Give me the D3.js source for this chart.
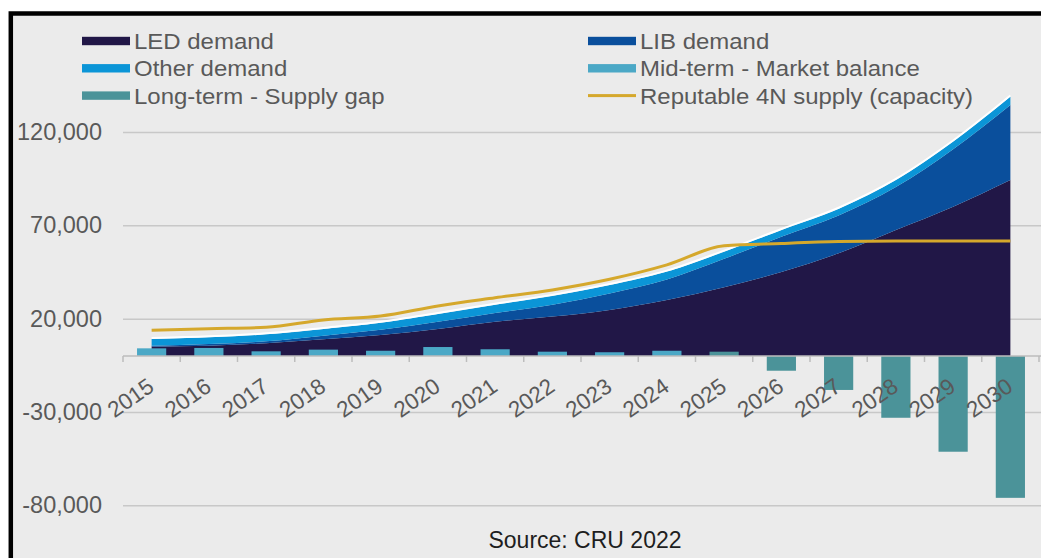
<!DOCTYPE html>
<html>
<head>
<meta charset="utf-8">
<script src="https://cdn.jsdelivr.net/npm/d3@7"></script>
<style>
  body { margin: 0; background: #fff; }
  text { font-family: "Liberation Sans", Arial, sans-serif; }
</style>
</head>
<body>
<div id="vizArea"></div>
<script>
const years = ["2015","2016","2017","2018","2019","2020","2021","2022","2023","2024","2025","2026","2027","2028","2029","2030"];
const ledDemand   = [5000, 5500, 6800, 8900, 11200, 14500, 18400, 21100, 24700, 30000, 36800, 45000, 55000, 67500, 80000, 94300];
const libDemand   = [500, 900, 1100, 2000, 2800, 3800, 4600, 6400, 8800, 11000, 15300, 18900, 20300, 23000, 30800, 40200];
const otherDemand = [3600, 3600, 3700, 3600, 3800, 4200, 4500, 4700, 4500, 4200, 3800, 3600, 3600, 3800, 4100, 4500];
const supply4N    = [13800, 14600, 15400, 19300, 21400, 26800, 31200, 35400, 41100, 48800, 59000, 60300, 61300, 61600, 61600, 61600];
// market balance bars, null where the year belongs to the other series
const midTerm  = [4100, 4300, 2500, 3400, 2800, 4800, 3600, 2300, 2000, 2800, null, null, null, null, null, null];
const longTerm = [null, null, null, null, null, null, null, null, null, null, 2300, -7900, -18200, -33100, -51300, -76000];
const yTicks = [-80000, -30000, 20000, 70000, 120000];

const colors = {
  led: "#211747", lib: "#0a4f9c", other: "#0b95d7",
  mid: "#4ba8c6", long: "#4b9399", supply: "#d5a82c"
};

const width = 1041, height = 558;

const svg = d3.select("#vizArea")
    .append("svg")
    .attr("width", width)
    .attr("height", height);

// panel with black frame (top and left visible)
svg.append("rect")
    .attr("x", 10.8).attr("y", 13.5)
    .attr("width", 1100).attr("height", 600)
    .attr("fill", "#ebebeb")
    .attr("stroke", "#000")
    .attr("stroke-width", 4.5);

const x = d3.scaleBand()
    .domain(years)
    .range([123, 1039]);

const y = d3.scaleLinear()
    .domain([-80000, 120000])
    .range([505.3, 132]);

const cx = d => x(d) + x.bandwidth() / 2;
const fmt = d => d3.format(",")(d).replace("\u2212", "-");

// gridlines + y labels
const yAxis = svg.append("g")
    .attr("transform", "translate(123,0)")
    .call(d3.axisLeft(y).tickValues(yTicks).tickFormat(fmt).tickSize(-918).tickPadding(21));
yAxis.select(".domain").remove();
yAxis.selectAll(".tick line").attr("stroke", "#c8c8c8").attr("stroke-width", 1.5);
yAxis.selectAll(".tick text")
    .attr("fill", "#595959")
    .style("font-size", "23.5px");

// stacked demand
const table = years.map((yr, i) => ({year: yr, led: ledDemand[i], lib: libDemand[i], other: otherDemand[i]}));
const stack = d3.stack().keys(["led", "lib", "other"]);
const series = stack(table);

const area = d3.area()
    .curve(d3.curveMonotoneX)
    .x(d => cx(d.data.year))
    .y0(d => y(d[0]))
    .y1(d => y(d[1]));

svg.append("g").selectAll("path")
    .data(series)
    .join("path")
    .attr("fill", d => colors[d.key])
    .attr("d", area);

// thin white edge on top of total demand
svg.append("path")
    .datum(series[2])
    .attr("fill", "none")
    .attr("stroke", "#fff")
    .attr("stroke-width", 2)
    .attr("d", d3.line().curve(d3.curveMonotoneX).x(d => cx(d.data.year)).y(d => y(d[1]) - 1));

// balance bars
const barW = x.bandwidth() * 0.51;
function bars(values, color) {
  svg.append("g").selectAll("rect")
    .data(years.map((yr, i) => ({year: yr, v: values[i]})).filter(d => d.v !== null))
    .join("rect")
    .attr("x", d => cx(d.year) - barW / 2)
    .attr("width", barW)
    .attr("y", d => y(Math.max(0, d.v)))
    .attr("height", d => Math.abs(y(d.v) - y(0)))
    .attr("fill", color);
}
bars(midTerm, colors.mid);
bars(longTerm, colors.long);

// supply line
svg.append("path")
    .datum(years.map((yr, i) => ({year: yr, v: supply4N[i]})))
    .attr("fill", "none")
    .attr("stroke", colors.supply)
    .attr("stroke-width", 3)
    .attr("d", d3.line().curve(d3.curveMonotoneX).x(d => cx(d.year)).y(d => y(d.v)));

// x axis at zero
const xAxis = svg.append("g")
    .attr("transform", `translate(0,${y(0)})`);
xAxis.append("line")
    .attr("x1", 123).attr("x2", 1041)
    .attr("stroke", "#bdbdbd").attr("stroke-width", 1.5);
xAxis.selectAll("line.tk")
    .data(years.concat(["end"]))
    .join("line")
    .attr("class", "tk")
    .attr("x1", (d, i) => 123 + i * x.bandwidth())
    .attr("x2", (d, i) => 123 + i * x.bandwidth())
    .attr("y1", 0).attr("y2", 6)
    .attr("stroke", "#bdbdbd").attr("stroke-width", 1.5);
xAxis.selectAll("text")
    .data(years)
    .join("text")
    .attr("transform", d => `translate(${cx(d) - 21},42) rotate(-35)`)
    .attr("text-anchor", "middle")
    .attr("dominant-baseline", "central")
    .attr("fill", "#595959")
    .style("font-size", "22.5px")
    .text(d => d);

// legend
const legendItems = [
  {label: "LED demand", color: colors.led, col: 0, row: 0},
  {label: "LIB demand", color: colors.lib, col: 1, row: 0},
  {label: "Other demand", color: colors.other, col: 0, row: 1},
  {label: "Mid-term - Market balance", color: colors.mid, col: 1, row: 1},
  {label: "Long-term - Supply gap", color: colors.long, col: 0, row: 2},
  {label: "Reputable 4N supply (capacity)", color: colors.supply, col: 1, row: 2, line: true}
];
const legend = svg.append("g");
const lg = legend.selectAll("g")
    .data(legendItems)
    .join("g")
    .attr("transform", d => `translate(${d.col ? 588 : 82},${41 + d.row * 27.3})`);
lg.append("rect")
    .attr("x", 0)
    .attr("y", d => d.line ? -1.5 : -4.2)
    .attr("width", 48)
    .attr("height", d => d.line ? 3 : 8.4)
    .attr("fill", d => d.color);
lg.append("text")
    .attr("transform", "translate(52,8) scale(1.09,1)")
    .attr("fill", "#595959")
    .style("font-size", "22px")
    .text(d => d.label);

// source
svg.append("text")
    .attr("x", 585)
    .attr("y", 548)
    .attr("text-anchor", "middle")
    .attr("fill", "#1e1e1e")
    .style("font-size", "23px")
    .text("Source: CRU 2022");
</script>
</body>
</html>
